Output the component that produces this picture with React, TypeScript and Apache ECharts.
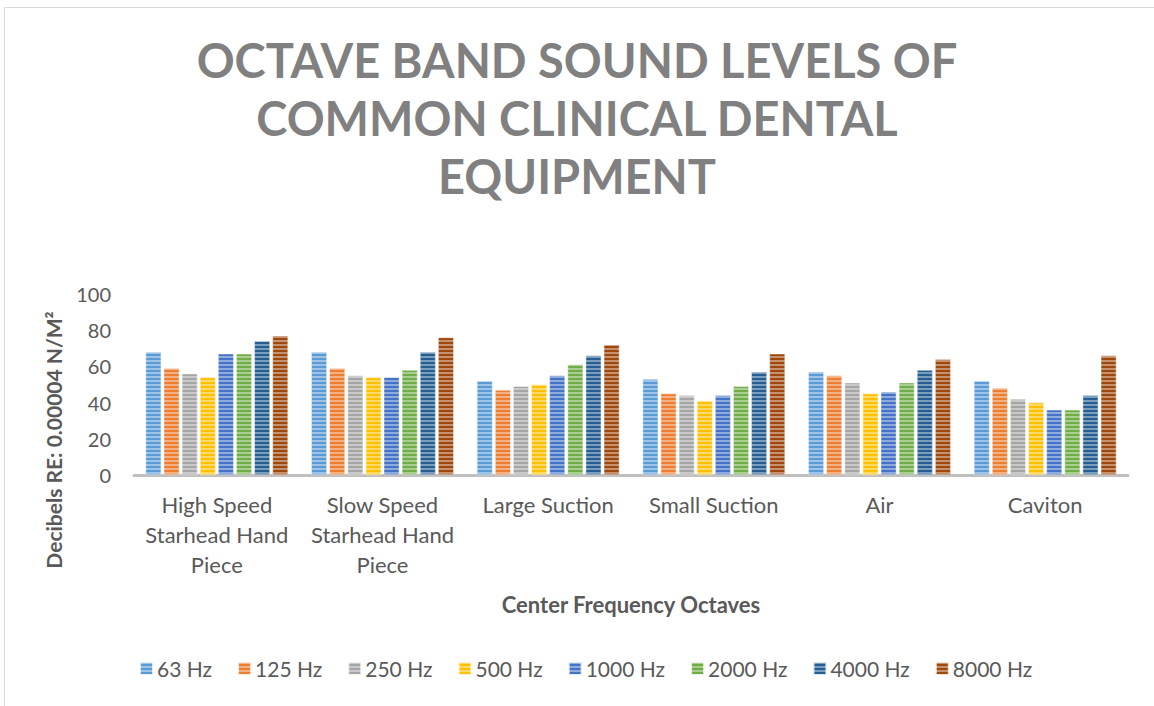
import React, { useEffect, useRef } from "react";
import * as echarts from "echarts";

const categories = [
  "High Speed\nStarhead Hand\nPiece",
  "Slow Speed\nStarhead Hand\nPiece",
  "Large Suction",
  "Small Suction",
  "Air",
  "Caviton",
];
const seriesNames = ["63 Hz", "125 Hz", "250 Hz", "500 Hz", "1000 Hz", "2000 Hz", "4000 Hz", "8000 Hz"];
const hz63 = [68, 68, 52, 53, 57, 52];
const hz125 = [59, 59, 47, 45, 55, 48];
const hz250 = [56, 55, 49, 44, 51, 42];
const hz500 = [54, 54, 50, 41, 45, 40];
const hz1000 = [67, 54, 55, 44, 46, 36];
const hz2000 = [67, 58, 61, 49, 51, 36];
const hz4000 = [74, 68, 66, 57, 58, 44];
const hz8000 = [77, 76, 72, 67, 64, 66];
const seriesValues = [hz63, hz125, hz250, hz500, hz1000, hz2000, hz4000, hz8000];
const colors = ["#5B9BD5", "#ED7D31", "#A5A5A5", "#FFC000", "#4472C4", "#70AD47", "#255E91", "#9E480E"];
const yTicks = [0, 20, 40, 60, 80, 100];

export default function App() {
  const ref = useRef<HTMLDivElement>(null);
  useEffect(() => {
    if (!ref.current) return;
    const chart = echarts.init(ref.current, null, { renderer: "svg" });
    const font = "Lato";
    chart.setOption({
      animation: false,
      backgroundColor: "#ffffff",
      color: colors,
      title: {
        text: "OCTAVE BAND SOUND LEVELS OF\nCOMMON CLINICAL DENTAL\nEQUIPMENT",
        left: "center",
        top: 26,
        textStyle: {
          fontFamily: font,
          fontWeight: "bold",
          fontSize: 47,
          lineHeight: 58,
          color: "#808080",
        },
      },
      graphic: [
        {
          type: "rect",
          shape: { x: 4.5, y: 7.5, width: 1300, height: 900 },
          style: { fill: "none", stroke: "#d9d9d9", lineWidth: 1 },
          silent: true,
        },
        {
          type: "text",
          x: 53,
          y: 440,
          rotation: Math.PI / 2,
          style: {
            text: "Decibels RE: 0.00004 N/M²",
            font: `bold 21px ${font}`,
            fill: "#595959",
            align: "center",
            verticalAlign: "middle",
          },
        },
      ],
      legend: {
        bottom: 22,
        left: 134,
        itemWidth: 13,
        itemHeight: 13,
        itemGap: 25,
        icon: "rect",
        textStyle: { fontFamily: font, fontSize: 21, color: "#595959", padding: [0, 0, 0, -1] },
        data: seriesNames,
      },
      grid: { left: 134, right: 26, top: 294, bottom: 231, containLabel: false },
      xAxis: {
        type: "category",
        data: categories,
        name: "Center Frequency Octaves",
        nameLocation: "middle",
        nameGap: 118,
        nameTextStyle: { fontFamily: font, fontWeight: "bold", fontSize: 22, color: "#595959" },
        axisLine: { lineStyle: { color: "#bfbfbf", width: 3 } },
        axisTick: { show: false },
        axisLabel: {
          fontFamily: font,
          fontSize: 22,
          lineHeight: 30,
          color: "#595959",
          margin: 14,
          interval: 0,
        },
      },
      yAxis: {
        type: "value",
        min: yTicks[0],
        max: yTicks[yTicks.length - 1],
        interval: 20,
        axisLine: { show: false },
        axisTick: { show: false },
        splitLine: { show: false },
        axisLabel: { fontFamily: font, fontSize: 20, color: "#595959", margin: 23 },
      },
      series: seriesNames.map((name, i) => ({
        name,
        type: "bar",
        data: seriesValues[i],
        barGap: "16%",
        barCategoryGap: "14%",
        itemStyle: {
          color: colors[i],
          borderColor: "rgba(255,255,255,0.5)",
          borderWidth: 0.5,
          decal: {
            symbol: "rect",
            symbolSize: 1,
            dashArrayX: [1, 0],
            dashArrayY: [1.5, 1.5],
            rotation: 0,
            color: "rgba(255,255,255,0.4)",
          },
        },
      })),
    });
    return () => chart.dispose();
  }, []);
  return (
    <div
      ref={ref}
      style={{ position: "fixed", left: 0, top: 0, width: 1154, height: 706 }}
    />
  );
}
